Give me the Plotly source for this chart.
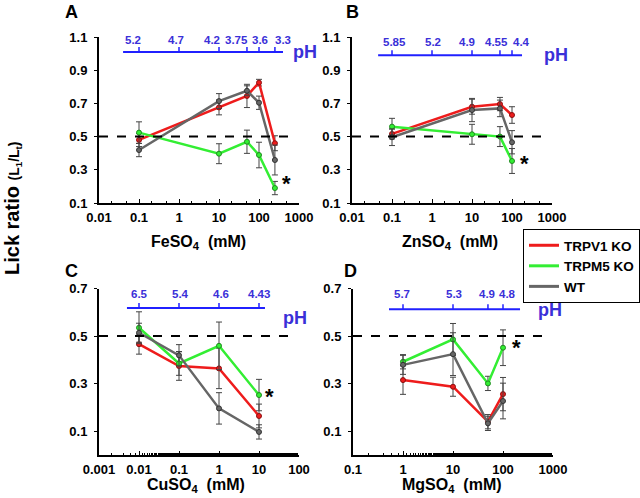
import math
import plotly.graph_objects as go

# ---------------- data ----------------
series_names = ["TRPV1 KO", "TRPM5 KO", "WT"]

fe_conc = [0.1, 10, 50, 100, 250]
fe_trpv1 = [0.48, 0.676, 0.745, 0.825, 0.46]
fe_trpv1_err = [0.04, 0.045, 0.07, 0.02, 0.045]
fe_trpm5 = [0.524, 0.397, 0.469, 0.389, 0.19]
fe_trpm5_err = [0.065, 0.06, 0.07, 0.077, 0.04]
fe_wt = [0.419, 0.714, 0.776, 0.704, 0.359]
fe_wt_err = [0.04, 0.045, 0.03, 0.04, 0.09]
fe_ph_conc = [0.1, 1, 10, 50, 100, 250]
fe_ph = ["5.2", "4.7", "4.2", "3.75", "3.6", "3.3"]

zn_conc = [0.1, 10, 50, 100]
zn_trpv1 = [0.516, 0.68, 0.696, 0.63]
zn_trpv1_err = [0.03, 0.045, 0.04, 0.05]
zn_trpm5 = [0.56, 0.514, 0.5, 0.353]
zn_trpm5_err = [0.05, 0.06, 0.06, 0.075]
zn_wt = [0.496, 0.66, 0.67, 0.466]
zn_wt_err = [0.05, 0.07, 0.05, 0.07]
zn_ph_conc = [0.1, 1, 10, 50, 100]
zn_ph = ["5.85", "5.2", "4.9", "4.55", "4.4"]

cu_conc = [0.01, 0.1, 1, 10]
cu_trpv1 = [0.466, 0.374, 0.364, 0.164]
cu_trpv1_err = [0.042, 0.06, 0.085, 0.05]
cu_trpm5 = [0.535, 0.385, 0.459, 0.252]
cu_trpm5_err = [0.067, 0.05, 0.1, 0.066]
cu_wt = [0.514, 0.419, 0.196, 0.097]
cu_wt_err = [0.04, 0.045, 0.066, 0.03]
cu_ph_conc = [0.01, 0.1, 1, 10]
cu_ph = ["6.5", "5.4", "4.6", "4.43"]

mg_conc = [1, 10, 50, 100]
mg_trpv1 = [0.315, 0.287, 0.14, 0.256]
mg_trpv1_err = [0.06, 0.04, 0.03, 0.07]
mg_trpm5 = [0.392, 0.486, 0.301, 0.451]
mg_trpm5_err = [0.03, 0.067, 0.03, 0.075]
mg_wt = [0.379, 0.424, 0.133, 0.227]
mg_wt_err = [0.04, 0.09, 0.03, 0.075]
mg_ph_conc = [1, 10, 50, 100]
mg_ph = ["5.7", "5.3", "4.9", "4.8"]

# ---------------- style ----------------
W, H = 640, 498
FONT = "Liberation Sans, Arial, sans-serif"
COLORS = ["#ee1c1c", "#33ee33", "#666666"]
EDGE = ["#8a1010", "#1f8a1f", "#333333"]
PH_LINE = "#2020ff"
PH_TEXT = "#3a30d8"


def px_x(p):
    return p / W


def px_y(p):
    return (H - p) / H


def paper_text(xp, yp, text, size, color="black", angle=0):
    return dict(xref="paper", yref="paper", x=px_x(xp), y=px_y(yp), text=text,
                showarrow=False, xanchor="center", yanchor="middle", textangle=angle,
                font=dict(family=FONT, size=size, color=color, weight="bold"))


panels = [
    dict(letter="A", conc=fe_conc, ys=[fe_trpv1, fe_trpm5, fe_wt],
         errs=[fe_trpv1_err, fe_trpm5_err, fe_wt_err],
         ph_conc=fe_ph_conc, ph=fe_ph, title="FeSO<sub>4</sub>  (mM)", title_px=(198, 242),
         xpx=(99, 299), ypx=(37, 203), yr=[0.1, 1.1], yt=[0.1, 0.3, 0.5, 0.7, 0.9, 1.1],
         xr=[-2, 3], ph_span=(0.04, 398), ph_y=1.01, lab_px=[133, 176, 212, 236, 260, 283], lab_ypx=40,
         ph_txt=(305, 52), star=(500, 0.22), letter_px=(71, 12)),
    dict(letter="B", conc=zn_conc, ys=[zn_trpv1, zn_trpm5, zn_wt],
         errs=[zn_trpv1_err, zn_trpm5_err, zn_wt_err],
         ph_conc=zn_ph_conc, ph=zn_ph, title="ZnSO<sub>4</sub>  (mM)", title_px=(450, 242),
         xpx=(352, 552), ypx=(37, 203), yr=[0.1, 1.1], yt=[0.1, 0.3, 0.5, 0.7, 0.9, 1.1],
         xr=[-2, 3], ph_span=(0.045, 178), ph_y=0.99, lab_px=[394, 433, 467, 496, 521], lab_ypx=42,
         ph_txt=(556, 55), star=(200, 0.34), letter_px=(352, 12)),
    dict(letter="C", conc=cu_conc, ys=[cu_trpv1, cu_trpm5, cu_wt],
         errs=[cu_trpv1_err, cu_trpm5_err, cu_wt_err],
         ph_conc=cu_ph_conc, ph=cu_ph, title="CuSO<sub>4</sub>  (mM)", title_px=(196, 485),
         xpx=(99, 299), ypx=(288.5, 455), yr=[0, 0.7], yt=[0.1, 0.3, 0.5, 0.7],
         xr=[-3, 2], ph_span=(0.005, 14.1), ph_y=0.618, lab_px=[139, 180, 221, 259], lab_ypx=294,
         ph_txt=(295, 318), star=(17.8, 0.248), letter_px=(71, 271)),
    dict(letter="D", conc=mg_conc, ys=[mg_trpv1, mg_trpm5, mg_wt],
         errs=[mg_trpv1_err, mg_trpm5_err, mg_wt_err],
         ph_conc=mg_ph_conc, ph=mg_ph, title="MgSO<sub>4</sub>  (mM)", title_px=(452, 485),
         xpx=(353, 553), ypx=(288.5, 455), yr=[0, 0.7], yt=[0.1, 0.3, 0.5, 0.7],
         xr=[-1, 3], ph_span=(0.525, 219), ph_y=0.613, lab_px=[402, 454, 487, 507], lab_ypx=294,
         ph_txt=(550, 310), star=(182, 0.454), letter_px=(350, 271)),
]

fig = go.Figure()
shapes = []
annotations = []
layout_axes = {}

for i, p in enumerate(panels):
    n = "" if i == 0 else str(i + 1)
    xa, ya = "x" + n, "y" + n
    for k in range(3):
        fig.add_trace(go.Scatter(
            x=p["conc"], y=p["ys"][k], xaxis=xa, yaxis=ya, mode="lines+markers",
            line=dict(color=COLORS[k], width=2.5),
            marker=dict(size=5, color=COLORS[k], line=dict(color=EDGE[k], width=1)),
            error_y=dict(type="data", array=p["errs"][k], color="#444444",
                         thickness=1, width=3),
            showlegend=False, hoverinfo="x+y"))
    lo, hi = p["xr"]
    tv = [10 ** e for e in range(lo, hi + 1)]
    layout_axes["xaxis" + n] = dict(
        domain=[px_x(p["xpx"][0]), px_x(p["xpx"][1])], anchor=ya, type="log",
        range=p["xr"], tickvals=tv, ticktext=["%g" % v for v in tv],
        showline=True, linecolor="black", linewidth=2, ticks="inside", ticklen=4,
        tickcolor="black", showgrid=False, zeroline=False, automargin=False,
        ticklabelstandoff=1,
        minor=dict(ticks="inside", ticklen=2, tickcolor="black", tickwidth=1, showgrid=False),
        tickfont=dict(family=FONT, size=13, color="black", weight="bold"),
    )
    layout_axes["yaxis" + n] = dict(
        domain=[px_y(p["ypx"][1]), px_y(p["ypx"][0])], anchor=xa, range=p["yr"],
        tickvals=p["yt"], ticktext=["%.1f" % v for v in p["yt"]],
        showline=True, linecolor="black", linewidth=2, ticks="outside", ticklen=3,
        tickcolor="black", showgrid=False, zeroline=False, automargin=False,
        ticklabelstandoff=4,
        tickfont=dict(family=FONT, size=13, color="black", weight="bold"),
    )
    annotations.append(paper_text(p["title_px"][0], p["title_px"][1], p["title"], 16))
    # dashed reference at 0.5
    shapes.append(dict(type="line", xref=xa + " domain", yref=ya, x0=0, x1=0.99, y0=0.5, y1=0.5,
                       line=dict(color="black", width=2, dash="dash")))
    # pH scale
    shapes.append(dict(type="line", xref=xa, yref=ya, x0=p["ph_span"][0], x1=p["ph_span"][1],
                       y0=p["ph_y"], y1=p["ph_y"], line=dict(color=PH_LINE, width=2)))
    for c, lab, lx in zip(p["ph_conc"], p["ph"], p["lab_px"]):
        shapes.append(dict(type="line", xref=xa, yref=ya, x0=c, x1=c, ysizemode="pixel",
                           yanchor=p["ph_y"], y0=0, y1=5, line=dict(color=PH_LINE, width=1.5)))
        annotations.append(paper_text(lx, p["lab_ypx"], lab, 11.5, PH_TEXT))
    annotations.append(paper_text(p["ph_txt"][0], p["ph_txt"][1], "pH", 18, PH_TEXT))
    annotations.append(dict(xref=xa, yref=ya, x=math.log10(p["star"][0]), y=p["star"][1],
                            text="*", showarrow=False, xanchor="center", yanchor="middle",
                            font=dict(family=FONT, size=22, color="black", weight="bold")))
    annotations.append(paper_text(p["letter_px"][0], p["letter_px"][1], p["letter"], 18))

# legend entries
for k in range(3):
    fig.add_trace(go.Scatter(x=[None], y=[None], mode="lines", name=series_names[k],
                             line=dict(color=COLORS[k], width=3), showlegend=True))

annotations.append(paper_text(
    12, 208, "Lick ratio <span style='font-size:14px'>(L<sub>1</sub>/L<sub>t</sub>)</span>", 20, angle=-90))

fig.update_layout(
    width=W, height=H, margin=dict(l=0, r=0, t=0, b=0, autoexpand=False),
    paper_bgcolor="white", plot_bgcolor="white",
    shapes=shapes, annotations=annotations,
    legend=dict(x=px_x(523), y=px_y(229), xanchor="left", yanchor="top",
                bordercolor="black", borderwidth=1, bgcolor="white", itemwidth=30,
                font=dict(family=FONT, size=13.5, color="black", weight="bold"),
                tracegroupgap=0),
    **layout_axes,
)

fig.write_html("out.html", config={"displayModeBar": False},
               post_script="document.body.style.margin='0px';")
